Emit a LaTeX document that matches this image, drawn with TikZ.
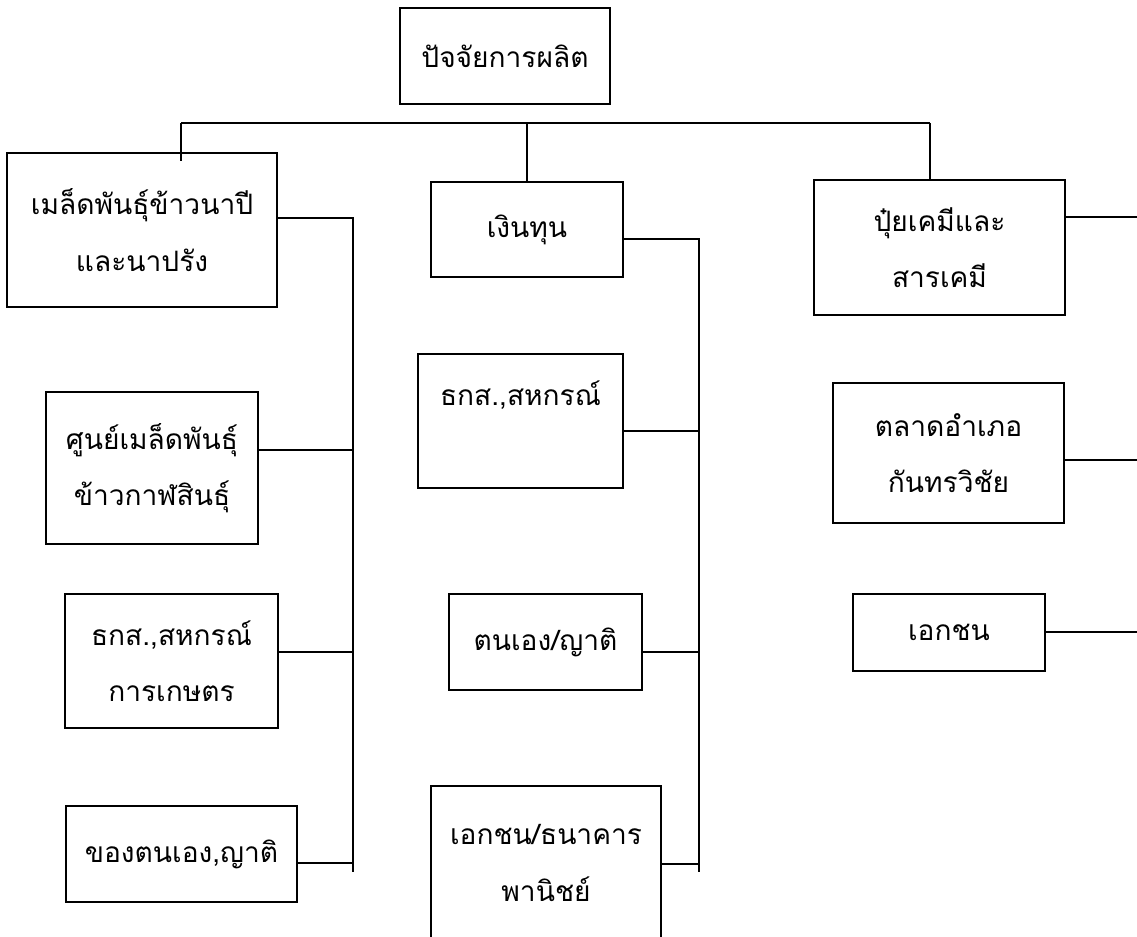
\documentclass[tikz,border=0pt]{standalone}
\usepackage{fontspec}
\newfontfamily\thaifont[Script=Thai]{Loma}
\begin{document}
\begin{tikzpicture}[
    box/.style={draw, line width=0.9pt, align=center, inner sep=0pt,
        font=\thaifont\fontsize{16}{32}\selectfont},
    link/.style={line width=0.9pt}
]
    \useasboundingbox (0,0) rectangle (22.74,-18.74);
    \clip (0,0) rectangle (22.74,-18.74);

    % หัวเรื่อง
    \node[box, minimum width=4.2cm, minimum height=1.92cm] (factor) at (10.1,-1.12) {ปัจจัยการผลิต};

    % หมวดหลัก
    \node[box, minimum width=5.4cm, minimum height=3.08cm] (seed) at (2.84,-4.6) {เมล็ดพันธุ์ข้าวนาปี\\และนาปรัง};
    \node[box, minimum width=3.84cm, minimum height=1.9cm] (fund) at (10.54,-4.59) {เงินทุน};
    \node[box, minimum width=5.02cm, minimum height=2.7cm] (chem) at (18.79,-4.95) {ปุ๋ยเคมีและ\\สารเคมี};

    \coordinate (busL) at (3.62,-2.46);
    \coordinate (busR) at (18.6,-2.46);
    \draw[link] (busL) -- (busR);
    \draw[link] (busL) -- (busL |- seed.north) -- ++(0,-0.18);
    \draw[link] (fund.north |- busL) -- (fund.north);
    \draw[link] (busR) -- (busR |- chem.north);

    % แหล่งเมล็ดพันธุ์
    \node[box, minimum width=4.24cm, minimum height=3.04cm] (seedctr) at (3.04,-9.36) {ศูนย์เมล็ดพันธุ์\\ข้าวกาฬสินธุ์};
    \node[box, minimum width=4.26cm, minimum height=2.68cm] (agri) at (3.43,-13.22) {ธกส.,สหกรณ์\\การเกษตร};
    \node[box, minimum width=4.62cm, minimum height=1.92cm] (own) at (3.63,-17.08) {ของตนเอง,ญาติ};

    \coordinate (spineL) at (7.06,-4.36);
    \coordinate (spineLend) at (7.06,-17.44);
    \coordinate (jL1) at (7.06,-9.0);
    \coordinate (jL2) at (7.06,-13.04);
    \coordinate (jL3) at (7.06,-17.26);
    \draw[link] (spineL -| seed.east) -- (spineL) -- (spineLend);
    \draw[link] (jL1 -| seedctr.east) -- (jL1);
    \draw[link] (jL2 -| agri.east) -- (jL2);
    \draw[link] (jL3 -| own.east) -- (jL3);

    % แหล่งเงินทุน
    \node[box, minimum width=4.1cm, minimum height=2.68cm] (coop) at (10.41,-8.42) {ธกส.,สหกรณ์\\~};
    \node[box, minimum width=3.86cm, minimum height=1.92cm] (self) at (10.91,-12.84) {ตนเอง/ญาติ};
    \node[box, minimum width=4.6cm, minimum height=3.08cm] (bank) at (10.92,-17.26) {เอกชน/ธนาคาร\\พานิชย์};

    \coordinate (spineM) at (13.98,-4.78);
    \coordinate (spineMend) at (13.98,-17.44);
    \coordinate (jM1) at (13.98,-8.62);
    \coordinate (jM2) at (13.98,-13.04);
    \coordinate (jM3) at (13.98,-17.28);
    \draw[link] (spineM -| fund.east) -- (spineM) -- (spineMend);
    \draw[link] (jM1 -| coop.east) -- (jM1);
    \draw[link] (jM2 -| self.east) -- (jM2);
    \draw[link] (jM3 -| bank.east) -- (jM3);

    % แหล่งปุ๋ยและสารเคมี
    \node[box, minimum width=4.62cm, minimum height=2.8cm] (market) at (18.97,-9.06) {ตลาดอำเภอ\\กันทรวิชัย};
    \node[box, minimum width=3.84cm, minimum height=1.54cm] (private) at (18.98,-12.65) {เอกชน};

    \coordinate (jR1) at (22.74,-4.34);
    \coordinate (jR2) at (22.74,-9.2);
    \coordinate (jR3) at (22.74,-12.64);
    \draw[link] (jR1 -| chem.east) -- (jR1);
    \draw[link] (jR2 -| market.east) -- (jR2);
    \draw[link] (jR3 -| private.east) -- (jR3);
\end{tikzpicture}
\end{document}
